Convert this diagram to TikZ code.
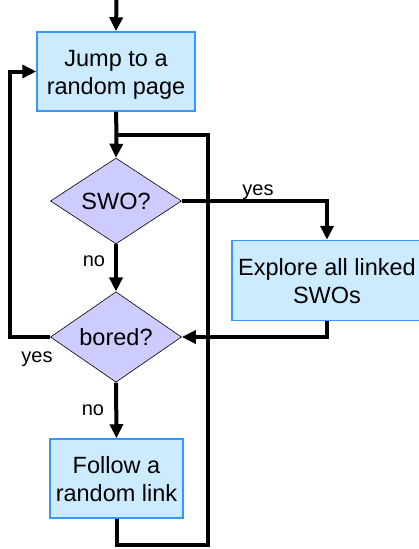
\documentclass[tikz,border=0pt]{standalone}
\usepackage{fontspec}
\setmainfont{Liberation Sans}
\usetikzlibrary{arrows.meta,shapes.geometric}
\definecolor{boxfill}{HTML}{CCEBFF}
\definecolor{boxline}{HTML}{3399FF}
\definecolor{decfill}{HTML}{CCCCFF}
% two centred lines with fixed top and bottom room
\newcommand\twoline[2]{\rule{0pt}{24pt}#1\\#2\rule[-6pt]{0pt}{6pt}}
\tikzset{
  actbox/.style={draw=boxline, line width=1.5pt, fill=boxfill, inner sep=0pt,
    align=center, font=\fontsize{23.5}{28}\selectfont},
  decision/.style={diamond, draw=black, line width=0.6pt, fill=decfill, inner sep=0pt,
    minimum width=131pt, minimum height=77pt, font=\fontsize{23.5}{28}\selectfont},
  flow/.style={line width=4pt},
  flowarrow/.style={flow, -{Triangle[width=13pt,length=14pt]}},
  lbl/.style={font=\fontsize{20}{24}\selectfont, anchor=base, inner sep=0pt},
}
\begin{document}
\begin{tikzpicture}[x=1pt, y=-1pt]
\useasboundingbox (0,0) rectangle (419,549);

% process boxes
\node[actbox, minimum width=158pt, minimum height=79pt] (jump) at (116,71.5) {\twoline{Jump to a}{random page}};
\node[actbox, minimum width=190pt, minimum height=80pt] (explore) at (327,280.5) {\twoline{Explore all linked}{SWOs}};
\node[actbox, minimum width=133pt, minimum height=79pt] (follow) at (116.5,478.5) {\twoline{Follow a}{random link}};

% decisions
\node[decision] (swo) at (116,201) {SWO?};
\node[decision] (bored) at (116,337) {bored?};

% helper points
\coordinate (start) at (116.5,0);
\coordinate (join) at (116.5,135);
\coordinate (loopbot) at (208,545);
\coordinate (loopright) at (208,135);
\coordinate (leftside) at (10,337);

% connectors
\draw[flowarrow] (start) -- (jump.north);
\draw[flow] (jump.south) -- (join);
\draw[flowarrow] (join) -- (swo.north);
\draw[flow] (follow.south) |- (loopbot) -- (loopright) -- (join);
\draw[flowarrow] (swo.east) -| (explore.north);
\draw[flowarrow] (swo.south) -- (bored.north);
\draw[flowarrow] (explore.south) |- (bored.east);
\draw[flowarrow] (bored.west) -- (leftside) |- (jump.west);
\draw[flowarrow] (bored.south) -- (follow.north);

% branch labels
\node[lbl] (yes1) at (258,195) {yes};
\node[lbl] (no1) at (94,266) {no};
\node[lbl] (yes2) at (37,362) {yes};
\node[lbl] (no2) at (93,415) {no};
\end{tikzpicture}
\end{document}
